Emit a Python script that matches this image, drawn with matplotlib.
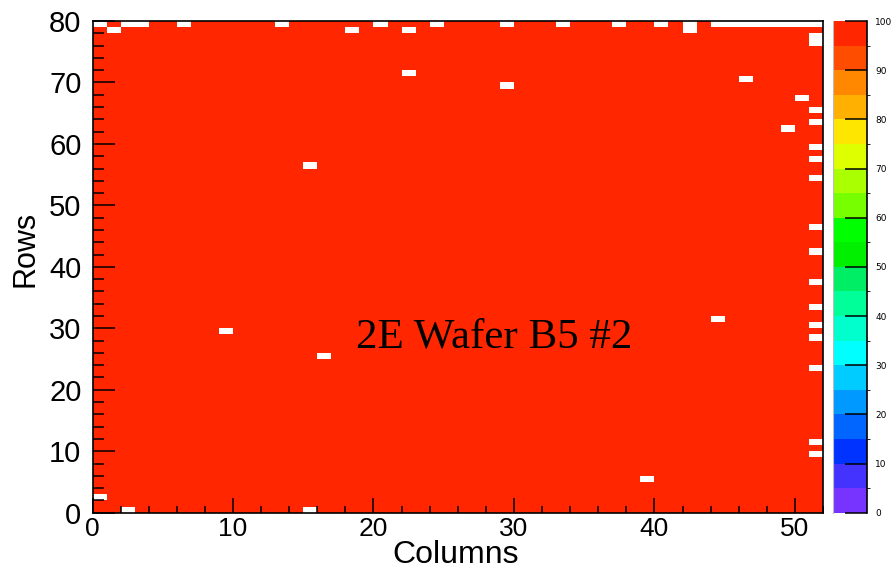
import matplotlib
matplotlib.use("Agg")
import matplotlib.pyplot as plt
import numpy as np
from matplotlib.colors import ListedColormap, BoundaryNorm
from matplotlib.ticker import MultipleLocator

N_COLS = 52
N_ROWS = 80
FULL_EFFICIENCY = 100.0

# dead pixels (empty bins)
DEAD_COLS = [0, 2, 3, 6, 13, 20, 24, 29, 33, 37, 40, 42, 44, 45, 46, 47, 48, 49, 50, 51,
             1, 18, 22, 42, 51, 51,
             22, 46, 29, 50, 51, 51, 49, 51, 51, 15, 51, 51, 51, 51, 51, 51, 51,
             44, 9, 16, 51, 51, 51, 39, 0, 2, 15]
DEAD_ROWS = [79, 79, 79, 79, 79, 79, 79, 79, 79, 79, 79, 79, 79, 79, 79, 79, 79, 79, 79, 79,
             78, 78, 78, 78, 77, 76,
             71, 70, 69, 67, 65, 63, 62, 59, 57, 56, 54, 46, 42, 37, 33, 30, 28,
             31, 29, 25, 23, 11, 9, 5, 2, 0, 0]

LEVELS = np.arange(0, 101, 5)
PALETTE = ["#7733ff", "#4433ff", "#0033ff", "#0066ff", "#0099ff", "#00ccff", "#00ffff",
           "#00ffcc", "#00ff99", "#00ee66", "#00f000", "#00ff00", "#77ff00", "#aaff00",
           "#ddff00", "#ffe600", "#ffb000", "#ff8800", "#ff4d00", "#ff2600"]

LABEL = "2E Wafer B5 #2"

eff = np.full((N_ROWS, N_COLS), FULL_EFFICIENCY)
for c, r in zip(DEAD_COLS, DEAD_ROWS):
    eff[r, c] = 0.0
eff = np.ma.masked_equal(eff, 0.0)

cmap = ListedColormap(PALETTE)
norm = BoundaryNorm(LEVELS, cmap.N)

fig = plt.figure(figsize=(8.94, 5.74), dpi=100)
ax = fig.add_axes([0.1035, 0.1068, 0.8171, 0.8566])
cax = fig.add_axes([0.9318, 0.1068, 0.0380, 0.8566])

mesh = ax.pcolormesh(np.arange(N_COLS + 1), np.arange(N_ROWS + 1), eff,
                     cmap=cmap, norm=norm, edgecolors="none")
ax.set_xlim(0, N_COLS)
ax.set_ylim(0, N_ROWS)

ax.xaxis.set_major_locator(MultipleLocator(10))
ax.xaxis.set_minor_locator(MultipleLocator(2))
ax.yaxis.set_major_locator(MultipleLocator(10))
ax.yaxis.set_minor_locator(MultipleLocator(2))
ax.tick_params(axis="x", which="major", direction="in", length=10.8, width=1.1,
               labelsize=19, pad=3)
ax.tick_params(axis="x", which="minor", direction="in", length=5.4, width=1.1)
ax.tick_params(axis="y", which="major", direction="in", length=15.8, width=1.1,
               labelsize=21, pad=8)
ax.tick_params(axis="y", which="minor", direction="in", length=7.9, width=1.1)
for lab in ax.get_xticklabels() + ax.get_yticklabels():
    lab.set_fontfamily("Liberation Sans")
for sp in ax.spines.values():
    sp.set_linewidth(1.2)

fig.text(0.510, 0.020, "Columns", fontsize=23, family="Liberation Sans",
         ha="center", va="baseline")
fig.text(0.012, 0.567, "Rows", fontsize=22, family="Liberation Sans",
         ha="left", va="center", rotation=90)

ax.text(28.6, 28.6, LABEL, fontsize=31, family="Liberation Serif",
        ha="center", va="center", color="black")

cb = fig.colorbar(mesh, cax=cax, boundaries=LEVELS, ticks=np.arange(0, 101, 10))
cb.outline.set_visible(False)
cax.tick_params(axis="y", which="major", direction="in", length=16, width=1.1,
                labelsize=6.5, pad=6, colors="black")
cax.plot([1, 1], [0, 100], color="black", lw=1.2, transform=cax.get_yaxis_transform(),
         clip_on=False)
cax.plot([0, 0], [0, 100], color="#bbbbbb", lw=0.8, transform=cax.get_yaxis_transform(),
         clip_on=False)

fig.savefig("out.png", dpi=100)
